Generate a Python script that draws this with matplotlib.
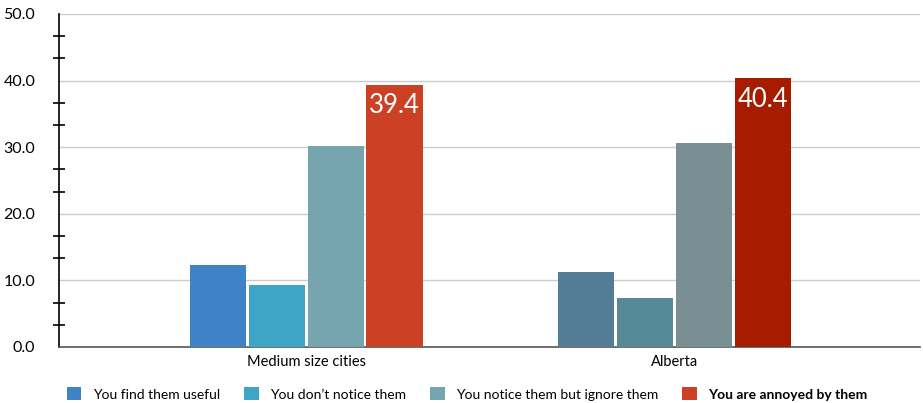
import numpy as np
import matplotlib
matplotlib.use("Agg")
import matplotlib.pyplot as plt
from matplotlib.patches import Patch
from matplotlib.ticker import MultipleLocator

plt.rcParams['font.family'] = ['Lato', 'DejaVu Sans']

regions = ["Medium size cities", "Alberta"]
answers = ["You find them useful", "You don\u2019t notice them",
           "You notice them but ignore them", "You are annoyed by them"]
medium = [12.3, 9.3, 30.2, 39.4]
alberta = [11.3, 7.4, 30.6, 40.4]

medium_colors = ["#3F83C6", "#3FA5C6", "#76A5B0", "#CC4125"]
alberta_colors = ["#557C96", "#568A98", "#798F93", "#A61C00"]

fig = plt.figure(figsize=(9.23, 4.03), dpi=100)
ax = fig.add_axes([0.0639, 0.139, 0.9328, 0.8263])

x = np.arange(len(regions))
step = 0.16
width = 0.152
for i in range(len(answers)):
    off = (i - 1.5) * step
    for j, (vals, cols) in enumerate([(medium, medium_colors), (alberta, alberta_colors)]):
        ax.bar(x[j] + off, vals[i], width, color=cols[i], zorder=3)

# value labels on the "annoyed" bars
for j, vals in enumerate([medium, alberta]):
    ax.text(x[j] + 1.5 * step, vals[3] - 1.3, f"{vals[3]:.1f}", color="white",
            ha="center", va="top", fontsize=18.5, zorder=4)

ax.set_xlim(-0.67, 1.665)
ax.set_ylim(0, 50)
ax.yaxis.set_major_locator(MultipleLocator(10))
ax.yaxis.set_minor_locator(MultipleLocator(10 / 3))
ax.set_yticks(np.arange(0, 51, 10))
ax.set_yticklabels([f"{v:.1f}" for v in np.arange(0, 51, 10)], fontsize=11.5)
ax.set_xticks(x)
ax.set_xticklabels(regions, fontsize=10.5)
ax.tick_params(axis='x', length=0, pad=6)
ax.tick_params(axis='y', which='major', length=0, pad=17)
ax.tick_params(axis='y', which='minor', direction='inout', length=8, width=1.2, color='black')
ax.grid(axis='y', color='#cccccc', linewidth=1, zorder=0)

for s in ['top', 'right']:
    ax.spines[s].set_visible(False)
ax.spines['left'].set_color('black')
ax.spines['left'].set_linewidth(1.2)
ax.spines['bottom'].set_color('#555555')
ax.spines['bottom'].set_linewidth(1.2)

handles = [Patch(facecolor=c) for c in medium_colors]
leg = fig.legend(handles, answers, loc='lower center', bbox_to_anchor=(0.506, -0.025),
                 ncol=4, frameon=False, fontsize=10, handlelength=1.05, handleheight=1.05,
                 columnspacing=1.75, handletextpad=0.8)
leg.get_texts()[3].set_fontweight('bold')

fig.savefig("out.png", dpi=100)
